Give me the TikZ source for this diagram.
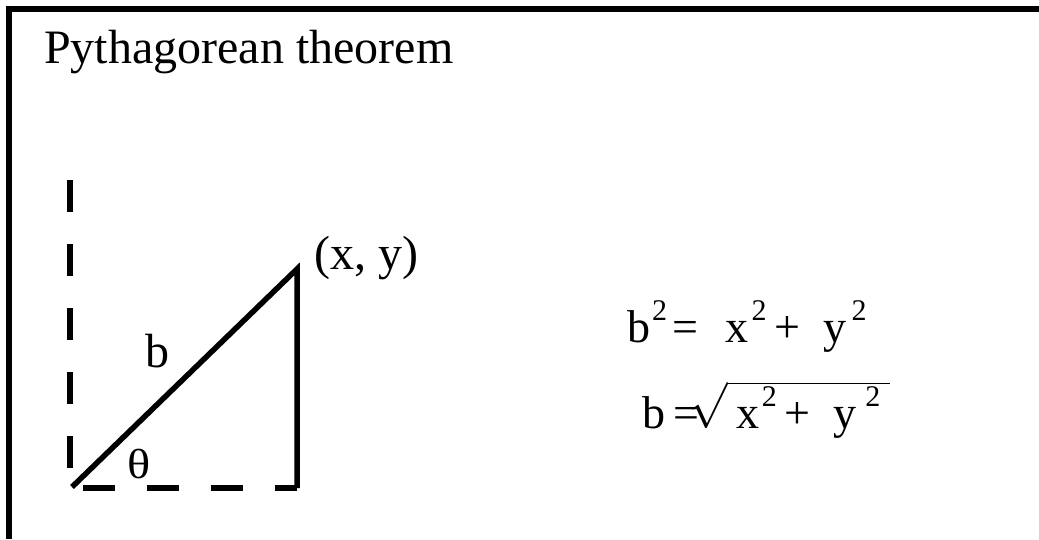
\RequirePackage{fix-cm}
\documentclass[tikz,border=0pt]{standalone}
\usepackage{amsmath}
\usepackage{fontspec}
\setmainfont{Liberation Serif}
\usetikzlibrary{positioning}
\newcommand{\sqd}{\raisebox{22pt}{\fontsize{30}{30}\selectfont 2}}

\begin{document}
\begin{tikzpicture}[x=1pt, y=-1pt,
    lbl/.style={inner sep=0pt, anchor=base west, font=\fontsize{48}{56}\selectfont},
    eqn/.style={inner sep=0pt, anchor=base west, font=\fontsize{46}{54}\selectfont},
    frame/.style={line width=6pt},
    side/.style={line width=5.5pt},
    guide/.style={line width=6pt, dash pattern=on 32pt off 32pt}
]
\useasboundingbox (0,0) rectangle (1039,539);
\draw[frame] (9,539) -- (9,9) -- (1039,9);

\node[lbl] (title) at (44,63) {Pythagorean theorem};

\coordinate (O) at (72,487);
\coordinate (P) at (297,269);
\coordinate (C) at (297,488);
\coordinate (ytop) at (70,180);
\coordinate (ybot) at (70,487);
\coordinate (xstart) at (83,488);

\draw[guide] (ytop) -- (ybot);
\draw[guide] (xstart) -- (C);
\draw[side] (O) -- (P) -- (C);

\node[lbl] (pt) at ([xshift=17pt]P) {(x, y)};
\node[lbl] (hyp) at (145,367) {b};
\node[lbl, font=\fontsize{42}{48}\selectfont] (ang) at (127,478) {\scalebox{1.15}[1]{θ}};

% b^2 = x^2 + y^2
\node[eqn] (eq1) at (627,342) {b\hspace{2pt}\sqd\hspace{5.5pt}=\hspace{27pt}x\hspace{3pt}\sqd\hspace{8pt}+\hspace{23pt}y\hspace{5pt}\sqd};
% b = sqrt(x^2 + y^2)
\node[eqn] (eq2) at (642,428) {b\hspace{8.5pt}=\hspace{-10pt}$\sqrt{\hbox{\hspace{9pt}x\hspace{2pt}\sqd\hspace{7.5pt}+\hspace{23pt}\smash[b]{y}\hspace{9pt}\sqd\hspace{10pt}}}$};
\end{tikzpicture}
\end{document}
